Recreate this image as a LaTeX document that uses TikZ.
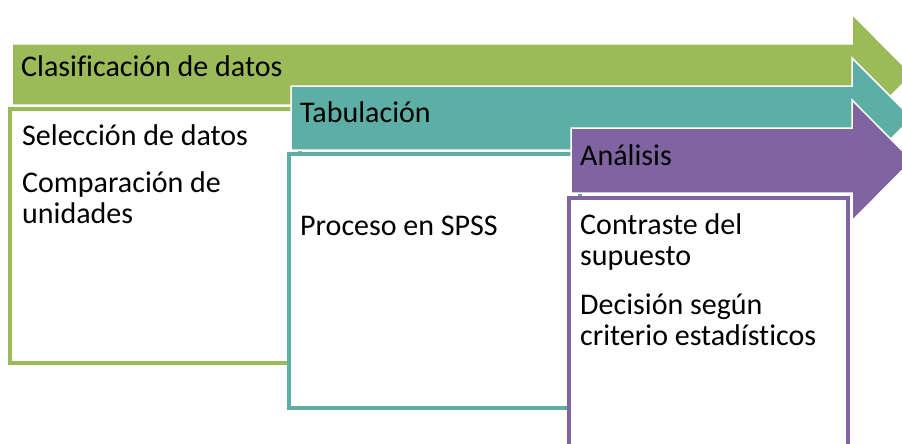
\documentclass[tikz,border=0pt]{standalone}
\usepackage{fontspec}
\setmainfont{Carlito}[Ligatures=NoCommon]
\usetikzlibrary{positioning}
\definecolor{verde}{HTML}{9BBB59}
\definecolor{turquesa}{HTML}{5DAFA6}
\definecolor{morado}{HTML}{8064A2}
\tikzset{
  flecha/.style={draw=white, line width=1.5pt, line join=miter},
  caja/.style={fill=white, line width=3.5pt},
  titulo/.style={anchor=base west, inner sep=0pt, font=\fontsize{30}{32}\selectfont},
  punto/.style={anchor=base west, inner sep=0pt, align=left, font=\fontsize{30}{31}\selectfont},
}

\begin{document}
\begin{tikzpicture}[x=1pt, y=-1pt]
\useasboundingbox (0,0) rectangle (902,444);
\clip (0,0) rectangle (902,444);
% Clasificacion de datos
\draw[flecha, fill=verde] (12,44) -- (852,44) -- (852,14) -- (912,74.5) -- (852,135) -- (852,105) -- (12,105) -- cycle;
\draw[caja, draw=verde] (10,109) rectangle (300,363);
\node[titulo] (clasif) at (21,77) {Clasificación de datos};
\node[punto] (seleccion) at (22,145) {Selección de datos};
\node[punto] (comparacion) at (22,223) {Comparación de\\unidades};
% Tabulacion
\draw[flecha, fill=turquesa] (291,86) -- (852,86) -- (852,58) -- (912,118) -- (852,178) -- (852,150) -- (291,150) -- cycle;
\draw[caja, draw=turquesa] (289,154) rectangle (580,408);
\node[titulo] (tabul) at (300,122) {Tabulación};
\node[punto] (proceso) at (300,235) {Proceso en SPSS};
% Analisis
\draw[flecha, fill=morado] (571,128) -- (852,128) -- (852,100) -- (912,160.5) -- (852,221) -- (852,193) -- (571,193) -- cycle;
\draw[caja, draw=morado] (569,198) rectangle (848,470);
\node[titulo] (analisis) at (580,165) {Análisis};
\node[punto] (contraste) at (580,265) {Contraste del\\supuesto};
\node[punto] (decision) at (580,345) {Decisión según\\criterio estadísticos};
\end{tikzpicture}
\end{document}
